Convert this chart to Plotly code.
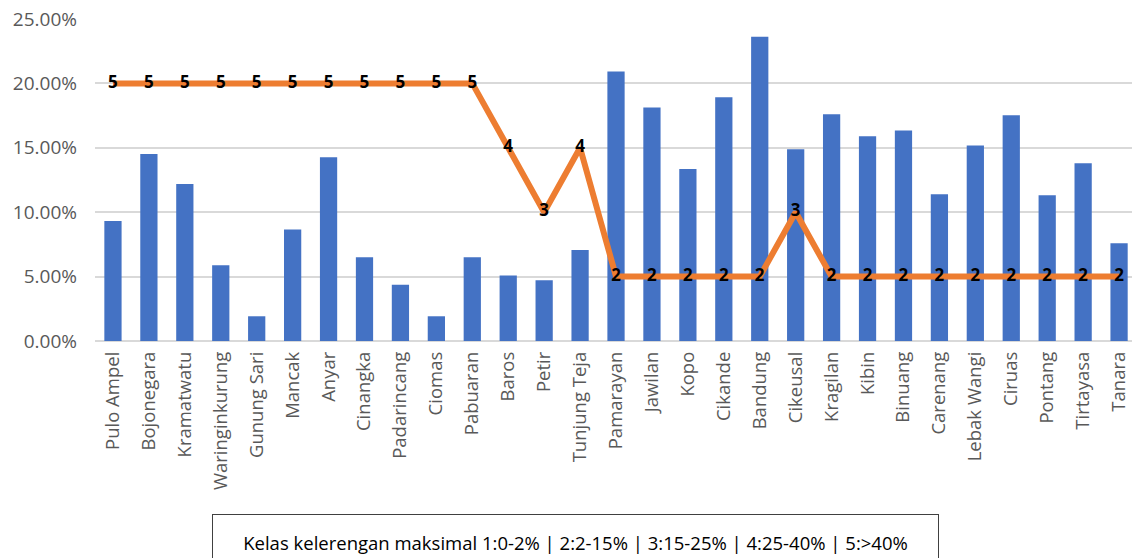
import plotly.graph_objects as go

categories = ["Pulo Ampel", "Bojonegara", "Kramatwatu", "Waringinkurung", "Gunung Sari",
              "Mancak", "Anyar", "Cinangka", "Padarincang", "Ciomas", "Pabuaran", "Baros",
              "Petir", "Tunjung Teja", "Pamarayan", "Jawilan", "Kopo", "Cikande", "Bandung",
              "Cikeusal", "Kragilan", "Kibin", "Binuang", "Carenang", "Lebak Wangi",
              "Ciruas", "Pontang", "Tirtayasa", "Tanara"]
slope_values = [0.0931, 0.1452, 0.1219, 0.0589, 0.0192, 0.0866, 0.1426, 0.0651,
                0.0436, 0.0192, 0.0651, 0.0508, 0.0472, 0.0706, 0.2093, 0.1813,
                0.1336, 0.1893, 0.2362, 0.1489, 0.1761, 0.1590, 0.1634, 0.1139,
                0.1517, 0.1753, 0.1131, 0.1380, 0.0758]
slope_class = [5, 5, 5, 5, 5, 5, 5, 5, 5, 5, 5, 4, 3, 4, 2, 2, 2, 2, 2, 3,
               2, 2, 2, 2, 2, 2, 2, 2, 2]
y_ticks = [0, 0.05, 0.10, 0.15, 0.20, 0.25]
legend_text = "Kelas kelerengan maksimal 1:0-2% | 2:2-15% | 3:15-25% | 4:25-40% | 5:>40%"

FONT = "Open Sans"

fig = go.Figure()
fig.add_trace(go.Bar(
    x=categories, y=slope_values,
    marker=dict(color="#4472C4", line=dict(width=0)),
    name="Kelerengan",
))
fig.add_trace(go.Scatter(
    x=categories, y=slope_class, yaxis="y2",
    mode="lines+text",
    line=dict(color="#ED7D31", width=6),
    text=[str(c) for c in slope_class],
    textposition="middle center",
    textfont=dict(family=FONT, size=17, color="black", weight="bold"),
    name="Kelas",
))

fig.update_layout(
    width=1132, height=558,
    margin=dict(l=95, r=0, t=19, b=217),
    paper_bgcolor="white", plot_bgcolor="white",
    showlegend=False,
    bargap=0.52,
    font=dict(family=FONT, color="#595959"),
    xaxis=dict(
        type="category",
        range=[-0.5, 28.36],
        tickangle=-90,
        tickfont=dict(family=FONT, size=18.5, color="#595959"),
        ticks="", showgrid=False, showline=False,
        ticklabelstandoff=6,
    ),
    yaxis=dict(
        range=[0, 0.25],
        tickvals=y_ticks,
        tickformat=".2%",
        tickfont=dict(family=FONT, size=19, color="#595959"),
        gridcolor="#D9D9D9", gridwidth=1.5,
        zeroline=True, zerolinecolor="#D9D9D9", zerolinewidth=1.5,
        showline=False, ticks="",
        ticklabelstandoff=17,
    ),
    yaxis2=dict(
        range=[1, 6], overlaying="y", visible=False,
    ),
    annotations=[dict(
        text=legend_text,
        xref="paper", yref="paper",
        x=(575.5 - 95) / 1037, y=(341 - 514) / 322,
        xanchor="center", yanchor="top",
        showarrow=False,
        width=723, height=52, valign="middle",
        bordercolor="#404040", borderwidth=1, bgcolor="white",
        font=dict(family=FONT, size=18.5, color="black"),
    )],
)

fig.write_html("out.html")
